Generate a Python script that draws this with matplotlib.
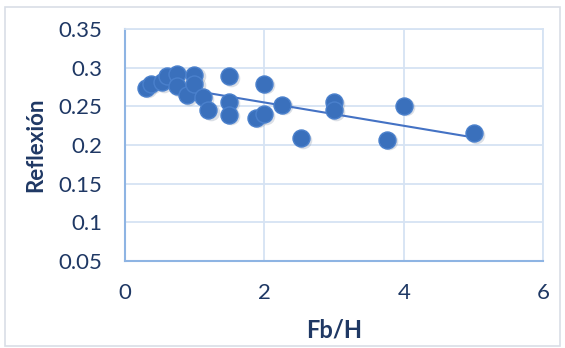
import numpy as np
import matplotlib.pyplot as plt
from matplotlib.patches import Rectangle

# Reflexion vs Fb/H - scatter with linear trend line

fb_h = [0.31, 0.38, 0.53, 0.60, 0.75, 0.75, 0.89, 1.0, 1.0, 1.12, 1.2,
        1.5, 1.5, 1.5, 1.88, 2.0, 2.0, 2.26, 2.52, 3.0, 3.0, 3.76, 4.0, 5.0]
reflexion = [0.274, 0.279, 0.281, 0.289, 0.292, 0.276, 0.264, 0.291, 0.279, 0.262, 0.245,
             0.289, 0.256, 0.239, 0.235, 0.240, 0.279, 0.252, 0.209, 0.255, 0.245, 0.207, 0.251, 0.215]

xticks = [0, 2, 4, 6]
yticks = [0.05, 0.1, 0.15, 0.2, 0.25, 0.3, 0.35]
ytick_labels = ["0.05", "0.1", "0.15", "0.2", "0.25", "0.3", "0.35"]

text_col = "#1F3864"
dot_col = "#3A70BC"

plt.rcParams['font.family'] = ['Lato', 'DejaVu Sans']

fig = plt.figure(figsize=(5.65, 3.48), dpi=100)
ax = fig.add_axes([0.2207, 0.25, 0.741, 0.6667])

# outer chart border
fig.patches.append(Rectangle((0.009, 0.006), 0.982, 0.974, transform=fig.transFigure,
                             fill=False, edgecolor="#D9DEE6", linewidth=1.2))

x = np.array(fb_h)
y = np.array(reflexion)

# linear trendline
m, b = np.polyfit(x, y, 1)
xl = np.array([x.min(), x.max()])
ax.plot(xl, m * xl + b, color="#4472C4", linewidth=1.5, zorder=3)

# shadow then marker
ax.scatter(x + 0.03, y - 0.002, s=160, color="#9AA6B8", alpha=0.35, linewidths=0, zorder=2)
ax.scatter(x, y, s=150, color=dot_col, edgecolors="#4A80CC", linewidths=1.0, zorder=4)

ax.set_xlim(0, 6)
ax.set_ylim(0.05, 0.35)
ax.set_xticks(xticks)
ax.set_yticks(yticks)
ax.set_yticklabels(ytick_labels)
ax.grid(True, color="#D6E3F3", linewidth=1.3)
ax.set_axisbelow(True)

for side in ["top", "right"]:
    ax.spines[side].set_color("#D6E3F3")
    ax.spines[side].set_linewidth(1.3)
for side in ["left", "bottom"]:
    ax.spines[side].set_color("#8EB4E3")
    ax.spines[side].set_linewidth(1.5)

ax.tick_params(length=0, labelsize=16, labelcolor=text_col, pad=16)
ax.tick_params(axis='x', pad=16)
ax.set_xlabel("Fb/H", fontsize=17, fontweight="bold", color=text_col, labelpad=11)
ax.set_ylabel("Reflexión", fontsize=16, fontweight="bold", color=text_col, labelpad=9)

plt.savefig("out.png", dpi=100)
